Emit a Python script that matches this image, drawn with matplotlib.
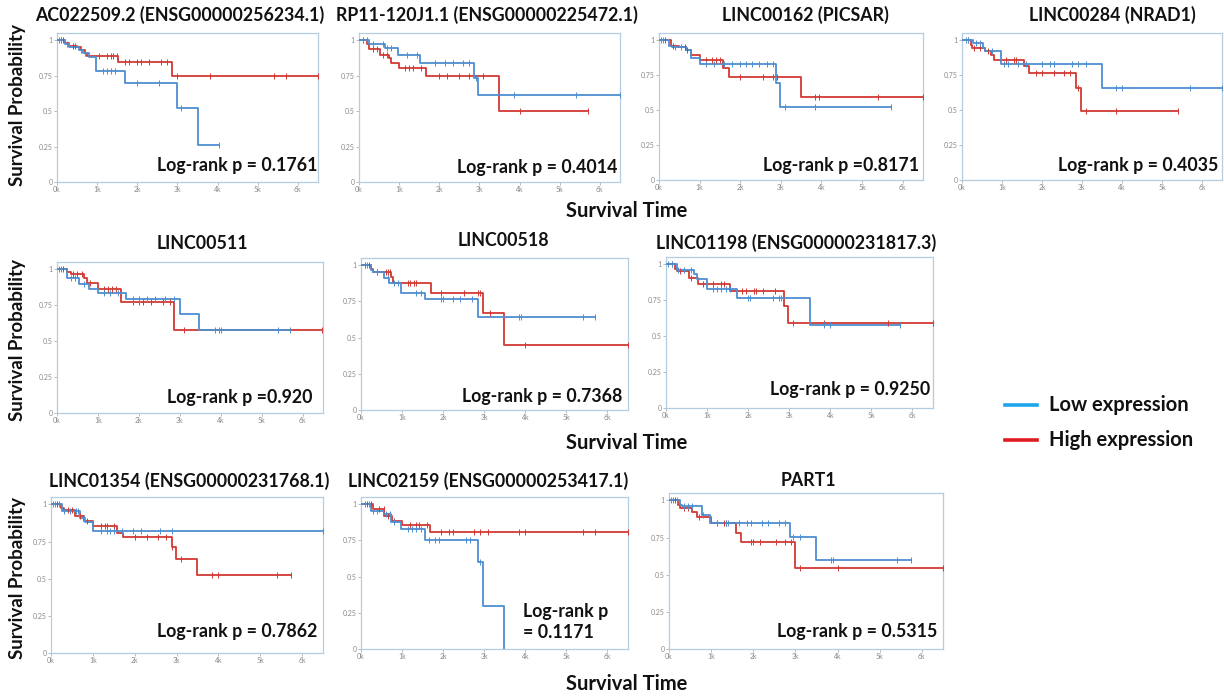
import numpy as np
import matplotlib
matplotlib.use('Agg')
import matplotlib.pyplot as plt

plt.rcParams['font.family'] = ['Lato', 'DejaVu Sans']

W, H = 1224, 698

titles = ['AC022509.2 (ENSG00000256234.1)', 'RP11-120J1.1 (ENSG00000225472.1)',
          'LINC00162 (PICSAR)', 'LINC00284 (NRAD1)',
          'LINC00511', 'LINC00518', 'LINC01198 (ENSG00000231817.3)',
          'LINC01354 (ENSG00000231768.1)', 'LINC02159 (ENSG00000253417.1)', 'PART1']
pvals = ['Log-rank p = 0.1761', 'Log-rank p = 0.4014', 'Log-rank p =0.8171',
         'Log-rank p = 0.4035', 'Log-rank p =0.920', 'Log-rank p = 0.7368',
         'Log-rank p = 0.9250', 'Log-rank p = 0.7862', 'Log-rank p\n= 0.1171',
         'Log-rank p = 0.5315']

# low expression (blue) curves: event times (days), survival after event, last follow-up, censor times
low_t = [[0, 200, 300, 550, 650, 800, 980, 1690, 2980, 3500],
         [0, 250, 640, 980, 1530, 2870, 2960],
         [0, 250, 330, 660, 800, 1000, 2870, 2980],
         [0, 270, 520, 580, 970, 3490],
         [0, 250, 530, 780, 1000, 1680, 3000, 3480],
         [0, 240, 290, 550, 680, 970, 1570, 2860],
         [0, 260, 670, 750, 1000, 1720, 3500],
         [0, 260, 700, 820, 1000],
         [0, 250, 570, 730, 970, 1570, 2860, 2980, 3480],
         [0, 260, 300, 780, 980, 2870, 3480]]
low_s = [[1, 0.97, 0.95, 0.93, 0.91, 0.88, 0.785, 0.70, 0.523, 0.264],
         [1, 0.975, 0.945, 0.895, 0.84, 0.735, 0.61],
         [1, 0.96, 0.95, 0.93, 0.87, 0.83, 0.69, 0.52],
         [1, 0.975, 0.945, 0.92, 0.83, 0.66],
         [1, 0.94, 0.90, 0.86, 0.835, 0.79, 0.69, 0.58],
         [1, 0.97, 0.955, 0.91, 0.88, 0.81, 0.77, 0.64],
         [1, 0.96, 0.93, 0.90, 0.83, 0.765, 0.575],
         [1, 0.955, 0.91, 0.88, 0.82],
         [1, 0.955, 0.93, 0.88, 0.83, 0.755, 0.60, 0.30, 0.0],
         [1, 0.97, 0.96, 0.90, 0.845, 0.755, 0.60]]
low_end = [4030, 6500, 5700, 6500, 5700, 5700, 5700, 6500, 3480, 5740]
low_cens = [[50, 100, 250, 600, 700, 1150, 1250, 1350, 1450, 2000, 2550, 3100, 4030],
            [100, 200, 350, 600, 700, 800, 1200, 1450, 1900, 2150, 2350, 2600, 2750, 2920, 3850, 5400, 6500],
            [50, 100, 400, 550, 1150, 1350, 1600, 1800, 2000, 2150, 2300, 2450, 2650, 2800, 3100, 3850, 5700],
            [100, 150, 350, 450, 750, 1050, 1150, 1400, 1600, 2000, 2200, 2300, 2750, 2900, 3100, 3850, 4000, 5700, 6500],
            [50, 100, 350, 450, 650, 1150, 1300, 1500, 1850, 2000, 2200, 2400, 2650, 2850, 3850, 3950, 4000, 5400, 5700],
            [100, 150, 400, 650, 800, 900, 1350, 1450, 1950, 2000, 2250, 2400, 2700, 3850, 3900, 5400, 5700],
            [50, 150, 300, 450, 600, 1150, 1250, 1350, 1450, 1550, 2000, 2050, 2600, 2750, 2800, 3850, 4000, 5700],
            [50, 100, 200, 300, 450, 600, 650, 800, 1200, 1350, 1400, 1500, 1700, 1950, 2150, 2600, 2900, 6500],
            [100, 200, 300, 400, 600, 700, 800, 1150, 1250, 1350, 1450, 1650, 1800, 1900, 2550, 2650, 2900],
            [50, 100, 200, 350, 450, 550, 800, 1150, 1350, 1400, 1650, 1850, 1950, 2200, 2350, 2600, 2750, 2950, 3100, 3850, 3900, 5400, 5740]]

# high expression (red) curves
high_t = [[0, 200, 300, 500, 600, 700, 750, 1520, 2860],
          [0, 200, 250, 530, 750, 800, 1000, 1680, 3490],
          [0, 290, 500, 660, 800, 1000, 1580, 1730, 3500],
          [0, 220, 250, 580, 720, 800, 1550, 1680, 2850, 2980],
          [0, 250, 330, 660, 740, 990, 1560, 2850],
          [0, 240, 290, 730, 770, 1700, 2960, 3470],
          [0, 220, 260, 550, 790, 1570, 2870, 2970],
          [0, 240, 300, 580, 780, 1000, 1580, 1720, 2880, 2980, 3500],
          [0, 280, 570, 760, 1000, 1690],
          [0, 220, 260, 540, 660, 1000, 1580, 1700, 2990]]
high_s = [[1, 0.98, 0.96, 0.95, 0.93, 0.91, 0.885, 0.848, 0.75],
          [1, 0.97, 0.94, 0.895, 0.875, 0.84, 0.805, 0.75, 0.5],
          [1, 0.96, 0.95, 0.93, 0.895, 0.86, 0.80, 0.735, 0.59],
          [1, 0.965, 0.94, 0.92, 0.89, 0.855, 0.815, 0.765, 0.655, 0.49],
          [1, 0.98, 0.97, 0.94, 0.905, 0.86, 0.77, 0.58],
          [1, 0.975, 0.955, 0.92, 0.88, 0.81, 0.67, 0.45],
          [1, 0.97, 0.95, 0.905, 0.865, 0.815, 0.71, 0.59],
          [1, 0.975, 0.96, 0.92, 0.89, 0.855, 0.81, 0.78, 0.715, 0.635, 0.525],
          [1, 0.965, 0.92, 0.885, 0.855, 0.81],
          [1, 0.97, 0.95, 0.92, 0.89, 0.845, 0.78, 0.72, 0.545]]
high_end = [6500, 5700, 6500, 5400, 6480, 6500, 6500, 5740, 6500, 6500]
high_cens = [[100, 150, 400, 450, 700, 1050, 1250, 1350, 1400, 1500, 1700, 1800, 2000, 2100, 2300, 2600, 2750, 3000, 3800, 5400, 5700, 6500],
             [100, 350, 450, 600, 700, 1150, 1250, 1350, 1550, 2000, 2200, 2500, 2750, 3100, 4000, 5700],
             [150, 350, 650, 700, 1150, 1300, 1400, 1500, 2000, 2550, 2800, 2900, 3850, 3950, 5400, 6500],
             [150, 300, 450, 650, 1100, 1300, 1350, 1850, 2000, 2300, 2550, 2700, 2900, 3100, 3850, 5400],
             [150, 400, 500, 600, 800, 1150, 1250, 1350, 1450, 1850, 2000, 2100, 2300, 2600, 2750, 3100, 6480],
             [100, 200, 400, 600, 650, 700, 1150, 1200, 1300, 1350, 1950, 2500, 2850, 2900, 3150, 4000, 6500],
             [150, 350, 600, 900, 1150, 1350, 1400, 1850, 1950, 2150, 2200, 2350, 2650, 3100, 3850, 5400, 6500],
             [150, 400, 500, 700, 850, 1200, 1300, 1350, 1500, 2000, 2300, 2550, 2750, 2900, 3100, 3850, 4000, 5400, 5740],
             [150, 250, 450, 550, 650, 800, 1200, 1350, 1400, 1600, 1950, 2150, 2250, 2750, 2900, 3100, 3850, 4000, 5400, 5700, 6500],
             [150, 350, 450, 700, 1150, 1300, 1350, 1950, 2000, 2150, 2550, 2750, 2900, 3100, 4000, 6500]]

x_ticks = [0, 1000, 2000, 3000, 4000, 5000, 6000]
x_ticklabels = ['0k', '1k', '2k', '3k', '4k', '5k', '6k']
y_ticks = [0, 0.25, 0.5, 0.75, 1]
y_ticklabels = ['0', '0.25', '0.5', '0.75', '1']

# layout in pixels: axes box (left, top, right, bottom), title centre, p-text anchor (axes fraction)
boxes = [(57, 33, 318, 182), (359, 33, 620, 182), (659, 33, 923, 180), (962, 33, 1222, 180),
         (57, 262, 323, 413), (361, 258, 628, 410), (666, 257, 933, 408),
         (51, 497, 323, 653), (361, 497, 628, 649), (669, 493, 943, 649)]
title_pos = [(180, 15), (487, 15), (805, 15), (1112, 15),
             (202, 243), (503, 241), (796, 243),
             (189, 481), (488, 481), (808, 481)]
ptext_pos = [(1.0, 0.11), (0.99, 0.10), (0.985, 0.10), (0.985, 0.10),
             (0.962, 0.105), (0.98, 0.09), (0.99, 0.12),
             (0.98, 0.14), (0.605, 0.18), (0.98, 0.11)]

BLUE = '#4d8fd1'
RED = '#d23a35'

fig = plt.figure(figsize=(W / 100, H / 100), dpi=100)


def draw_curve(ax, t, s, end, cens, color):
    x = list(t) + [end]
    y = list(s) + [s[-1]]
    ax.step(x, y, where='post', color=color, lw=1.3, zorder=3)
    idx = np.searchsorted(t, cens, side='right') - 1
    cy = np.array(s)[idx]
    ax.plot(cens, cy, ls='none', marker='|', ms=4.5, mew=0.7, color=color, zorder=4)


for i in range(len(titles)):
    l, t, r, b = boxes[i]
    ax = fig.add_axes([l / W, 1 - b / H, (r - l) / W, (b - t) / H])
    draw_curve(ax, high_t[i], high_s[i], high_end[i], high_cens[i], RED)
    draw_curve(ax, low_t[i], low_s[i], low_end[i], low_cens[i], BLUE)
    ax.set_xlim(0, 6500)
    ax.set_ylim(0, 1.05)
    ax.set_xticks(x_ticks)
    ax.set_xticklabels(x_ticklabels)
    ax.set_yticks(y_ticks)
    ax.set_yticklabels(y_ticklabels)
    ax.tick_params(labelsize=5, labelcolor='#8a8a8a', color='#b0b0b0',
                   length=2, width=0.6, pad=1)
    for sp in ax.spines.values():
        sp.set_color('#b5cde0')
        sp.set_linewidth(0.9)
    px, py = ptext_pos[i]
    ha = 'left' if '\n' in pvals[i] else 'right'
    ax.text(px, py, pvals[i], transform=ax.transAxes, ha=ha, va='center',
            fontsize=12.8, fontweight='bold', color='#111111', linespacing=1.3)
    tx, ty = title_pos[i]
    fig.text(tx / W, 1 - ty / H, titles[i], ha='center', va='center',
             fontsize=12.8, fontweight='bold', color='#111111')

# shared axis labels
for yc in [105, 340, 578]:
    fig.text(18 / W, 1 - yc / H, 'Survival Probability', rotation=90,
             ha='center', va='center', fontsize=13.5, fontweight='bold', color='#111111')
for yc in [211, 443, 684]:
    fig.text(627 / W, 1 - yc / H, 'Survival Time', ha='center', va='center',
             fontsize=14.5, fontweight='bold', color='#111111')

# legend
leg_items = [('Low expression', '#1ea5e9', 405), ('High expression', '#e01b22', 440)]
for label, col, yc in leg_items:
    fig.add_artist(plt.Line2D([1005 / W, 1037 / W], [1 - yc / H, 1 - yc / H],
                              color=col, lw=2.6, transform=fig.transFigure))
    fig.text(1049 / W, 1 - yc / H, label, ha='left', va='center',
             fontsize=14.5, fontweight='bold', color='#111111')

fig.savefig('out.png', dpi=100, facecolor='white')
